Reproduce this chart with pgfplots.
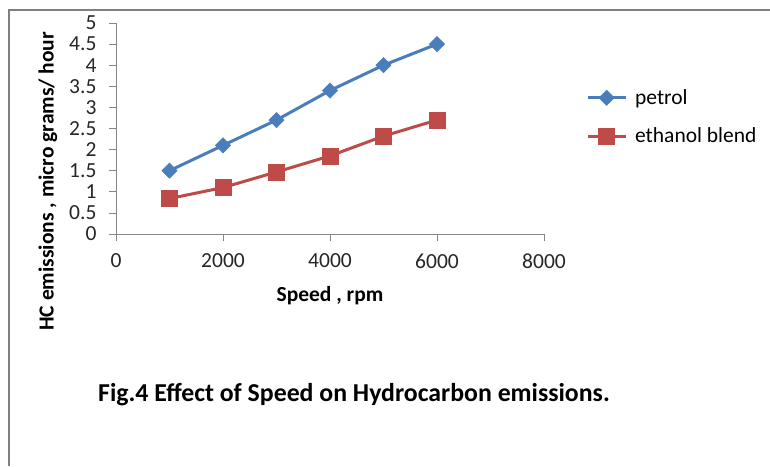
\documentclass[border=0pt]{standalone}
\usepackage{fontspec}
\setmainfont{Carlito}
\usepackage{pgfplots}
\pgfplotsset{compat=1.18}
\definecolor{xblue}{HTML}{4A7EBB}
\definecolor{xred}{HTML}{BE4B48}
\definecolor{axgray}{HTML}{868686}
\begin{document}
\begin{tikzpicture}[x=1pt,y=1pt]
\useasboundingbox (0,0) rectangle (770,466);
\draw[color=gray,line width=2pt] (9,0) -- (9,456) -- (770,456);
\begin{axis}[
  at={(116pt,232pt)}, anchor=south west,
  scale only axis, width=428pt, height=211pt,
  xmin=0, xmax=8000, ymin=0, ymax=5,
  xtick={0,2000,...,8000}, ytick={0,0.5,...,5},
  yticklabels={0,0.5,1,1.5,2,2.5,3,3.5,4,4.5,5},
  scaled ticks=false,
  xticklabel style={/pgf/number format/1000 sep={}},
  axis x line=bottom, axis y line=left,
  axis line style={-, color=axgray, line width=0.8pt},
  tick style={color=axgray, line width=0.8pt},
  tick align=outside, major tick length=7pt,
  ticklabel style={font=\fontsize{21.5}{24}\selectfont, text=black!85},
  /pgf/number format/assume math mode=true,
  xticklabel style={yshift=-9pt},
  yticklabel style={xshift=-9pt},
  xlabel={\textbf{Speed , rpm}},
  xlabel style={font=\fontsize{21.5}{24}\selectfont, at={(axis description cs:0.5,-0.294)}, anchor=center},
  ylabel={\textbf{HC emissions , micro grams/ hour}},
  ylabel style={font=\fontsize{21.5}{24}\selectfont, at={(axis description cs:-0.159,0.25)}, anchor=center, rotate=0},
  legend style={draw=none, fill=none, at={(1.098,0.695)}, anchor=north west,
     font=\fontsize{21.5}{24}\selectfont, row sep=18pt, inner sep=0pt},
  legend cell align=left,
  legend image code/.code={
    \draw[mark repeat=2,mark phase=2] plot coordinates {(0pt,0pt) (19pt,0pt) (38pt,0pt)};
    \path (44pt,0pt);},
]
\addplot[color=xblue, line width=3pt, mark=square*, mark size=5.4pt,
  mark options={rotate=45, solid, line width=0.5pt, fill=xblue}]
  coordinates {(1000,1.5) (2000,2.1) (3000,2.7) (4000,3.4) (5000,4.0) (6000,4.5)};
\addlegendentry{petrol}
\addplot[color=xred, line width=3pt, mark=square*, mark size=8pt,
  mark options={solid, line width=0.5pt, fill=xred}]
  coordinates {(1000,0.84) (2000,1.1) (3000,1.47) (4000,1.85) (5000,2.32) (6000,2.7)};
\addlegendentry{ethanol blend}
\end{axis}
\node[font=\fontsize{25.8}{30}\selectfont\bfseries, anchor=base] at (354,466-401) {Fig.4 Effect of Speed on Hydrocarbon emissions.};
\end{tikzpicture}
\end{document}
